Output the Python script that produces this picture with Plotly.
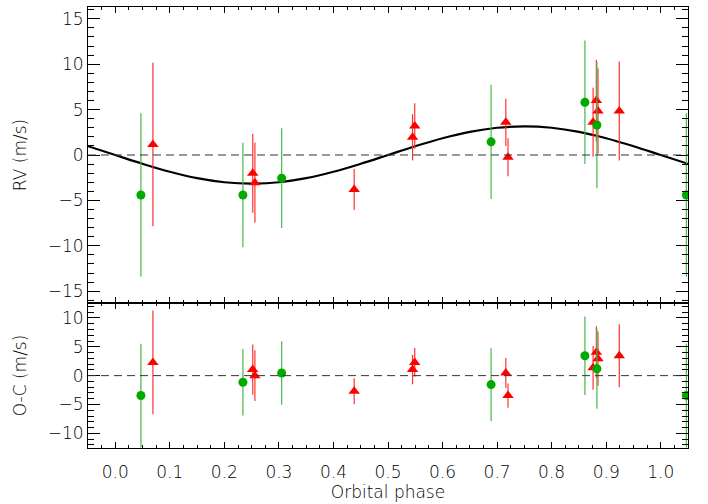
import plotly.graph_objects as go
from plotly.subplots import make_subplots

# ---- data ----
# model curve (read at 0.05 phase steps)
model_phase = [-0.05, 0.00, 0.05, 0.10, 0.15, 0.20, 0.25, 0.30, 0.35, 0.40, 0.45,
               0.50, 0.55, 0.60, 0.65, 0.70, 0.75, 0.80, 0.85, 0.90, 0.95, 1.00, 1.05]
model_rv = [0.97, 0.0, -0.97, -1.85, -2.55, -3.00, -3.15, -3.00, -2.55, -1.85, -0.97,
            0.0, 0.97, 1.85, 2.55, 3.00, 3.15, 3.00, 2.55, 1.85, 0.97, 0.0, -0.97]

# green circles
g_phase = [0.047, 0.234, 0.305, 0.689, 0.861, 0.883]
g_rv = [-4.4, -4.4, -2.55, 1.45, 5.8, 3.3]
g_err = [9.0, 5.75, 5.5, 6.3, 6.8, 6.95]
g_oc = [-3.45, -1.15, 0.45, -1.55, 3.45, 1.2]

# red triangles
r_phase = [0.069, 0.252, 0.256, 0.438, 0.545, 0.549, 0.716, 0.720, 0.876, 0.882, 0.885, 0.924]
r_rv = [1.15, -2.0, -3.05, -3.8, 1.95, 3.2, 3.6, -0.25, 3.6, 6.0, 4.85, 4.85]
r_err = [9.0, 4.35, 4.4, 2.25, 2.55, 2.5, 2.6, 2.1, 3.8, 4.5, 4.7, 5.45]
r_oc = [2.3, 1.05, 0.0, -2.7, 1.05, 2.3, 0.45, -3.45, 1.35, 4.05, 2.95, 3.45]

x_tickvals = [0.0, 0.1, 0.2, 0.3, 0.4, 0.5, 0.6, 0.7, 0.8, 0.9, 1.0]
x_ticktext = ["0.0", "0.1", "0.2", "0.3", "0.4", "0.5", "0.6", "0.7", "0.8", "0.9", "1.0"]
top_tickvals = [-15, -10, -5, 0, 5, 10, 15]
bot_tickvals = [-10, -5, 0, 5, 10]

XMIN, XMAX = -0.05, 1.05


def wrap(phase, *cols):
    """Repeat points shifted by one cycle when they fall inside the shown window."""
    out_p = list(phase)
    out_cols = [list(c) for c in cols]
    for i, p in enumerate(phase):
        if XMIN <= p + 1 <= XMAX:
            out_p.append(p + 1)
            for oc, c in zip(out_cols, cols):
                oc.append(c[i])
    return [out_p] + out_cols


gp, grv, gerr, goc = wrap(g_phase, g_rv, g_err, g_oc)
rp, rrv, rerr, roc = wrap(r_phase, r_rv, r_err, r_oc)

GREEN = "rgb(0,170,0)"
GREEN_BAR = "rgb(70,185,70)"
RED = "rgb(255,0,0)"
RED_BAR = "rgb(255,50,50)"

fig = make_subplots(rows=2, cols=1, shared_xaxes=True, vertical_spacing=0,
                    row_heights=[296, 145])

# model
fig.add_trace(go.Scatter(x=model_phase, y=model_rv, mode="lines",
                         line=dict(color="black", width=2.2, shape="spline"),
                         showlegend=False), row=1, col=1)

for row, ry, gy in [(1, rrv, grv), (2, roc, goc)]:
    fig.add_trace(go.Scatter(x=rp, y=ry, mode="markers",
                             marker=dict(symbol="triangle-up", size=10, color=RED),
                             error_y=dict(type="data", array=rerr, color=RED_BAR,
                                          thickness=1.2, width=0),
                             showlegend=False), row=row, col=1)
    fig.add_trace(go.Scatter(x=gp, y=gy, mode="markers",
                             marker=dict(symbol="circle", size=9, color=GREEN),
                             error_y=dict(type="data", array=gerr, color=GREEN_BAR,
                                          thickness=1.2, width=0),
                             showlegend=False), row=row, col=1)

for row in (1, 2):
    fig.add_hline(y=0, line=dict(color="#333333", width=1, dash="8px,5px"),
                  row=row, col=1)

FONT = dict(family="DejaVu Sans", size=17, color="black", weight=200)

common_x = dict(range=[XMIN, XMAX], showgrid=False, zeroline=False,
                showline=True, linecolor="black", linewidth=1, mirror="ticks",
                ticks="inside", ticklen=6, tickcolor="black", tickwidth=1,
                tickvals=x_tickvals,
                minor=dict(dtick=0.025, tick0=0, ticks="inside", ticklen=3,
                           tickcolor="black", tickwidth=1))
fig.update_xaxes(**common_x, showticklabels=False, row=1, col=1)
fig.update_xaxes(**common_x, showticklabels=True, ticktext=x_ticktext,
                 tickfont=FONT, ticklabelstandoff=9,
                 title=dict(text="Orbital phase", font=FONT, standoff=2),
                 row=2, col=1)

common_y = dict(showgrid=False, zeroline=False, showline=True, linecolor="black",
                linewidth=1, mirror="ticks", ticks="inside", ticklen=12,
                tickcolor="black", tickwidth=1, tickfont=FONT,
                minor=dict(dtick=1, ticks="inside", ticklen=6,
                           tickcolor="black", tickwidth=1))
fig.update_yaxes(**common_y, range=[-16.3, 16.3], tickvals=top_tickvals,
                 title=dict(text="RV (m/s)", font=FONT, standoff=16), row=1, col=1)
fig.update_yaxes(**common_y, range=[-12.55, 12.6], tickvals=bot_tickvals,
                 title=dict(text="O-C (m/s)", font=FONT, standoff=16), row=2, col=1)

fig.update_layout(width=708, height=504, margin=dict(l=88, r=20, t=7, b=56),
                  paper_bgcolor="white", plot_bgcolor="white", showlegend=False,
                  font=FONT)

fig.write_html("out.html")
